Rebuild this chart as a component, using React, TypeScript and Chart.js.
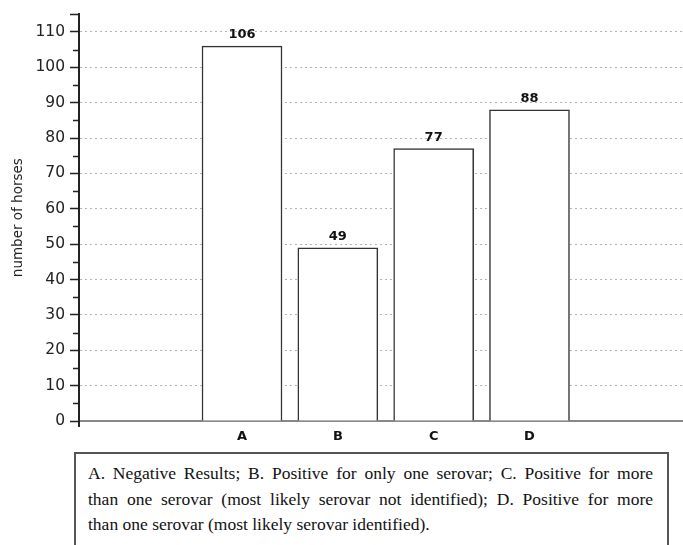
import React, { useEffect, useRef } from 'react';
import { Chart, registerables, Plugin } from 'chart.js';

Chart.register(...registerables);

// Categories and counts
const categories = ['A', 'B', 'C', 'D'];
const horseCounts = [106, 49, 77, 88];
const majorTicks = [0, 10, 20, 30, 40, 50, 60, 70, 80, 90, 100, 110];
const minorTicks = [5, 15, 25, 35, 45, 55, 65, 75, 85, 95, 105];
const yTitle = 'number of horses';
const captionLines = [
  'A. Negative Results; B. Positive for only one serovar; C. Positive for more',
  'than one serovar (most likely serovar not identified); D. Positive for more',
  'than one serovar (most likely serovar identified).',
];

const FONT = "'DejaVu Sans', 'Liberation Sans', Arial, sans-serif";

// value labels above each bar
const barLabels: Plugin<'bar'> = {
  id: 'barLabels',
  afterDatasetsDraw(chart) {
    const ctx = chart.ctx;
    const meta = chart.getDatasetMeta(0);
    ctx.save();
    ctx.font = `bold 13px ${FONT}`;
    ctx.fillStyle = '#111';
    ctx.textAlign = 'center';
    ctx.textBaseline = 'bottom';
    meta.data.forEach((bar: any, i) => {
      ctx.fillText(String(horseCounts[i]), bar.x, bar.y - 5);
    });
    ctx.restore();
  },
};

// short minor ticks on the y axis + little overhang below zero
const minorTickMarks: Plugin<'bar'> = {
  id: 'minorTickMarks',
  afterDraw(chart) {
    const ctx = chart.ctx;
    const y = chart.scales.y;
    const x0 = y.right;
    ctx.save();
    ctx.strokeStyle = '#222';
    ctx.lineWidth = 1.5;
    ctx.beginPath();
    minorTicks.forEach(v => {
      const py = Math.round(y.getPixelForValue(v)) + 0.5;
      ctx.moveTo(x0 - 6, py);
      ctx.lineTo(x0, py);
    });
    const top = Math.round(y.getPixelForValue(115)) + 0.5;
    ctx.moveTo(x0 - 9, top);
    ctx.lineTo(x0, top);
    ctx.stroke();
    ctx.lineWidth = 2;
    ctx.beginPath();
    ctx.moveTo(x0, y.bottom);
    ctx.lineTo(x0, y.bottom + 6);
    ctx.stroke();
    ctx.restore();
  },
};

export default function App() {
  const canvasRef = useRef<HTMLCanvasElement | null>(null);

  useEffect(() => {
    if (!canvasRef.current) return;
    const chart = new Chart(canvasRef.current, {
      type: 'bar',
      data: {
        datasets: [
          {
            data: horseCounts.map((v, i) => ({ x: i + 1, y: v })),
            backgroundColor: '#ffffff',
            borderColor: '#333',
            borderWidth: 1.5,
            barThickness: 80,
          },
        ],
      },
      options: {
        animation: false,
        responsive: true,
        maintainAspectRatio: false,
        layout: { padding: { top: 13, left: 0, right: 0, bottom: 0 } },
        plugins: {
          legend: { display: false },
          tooltip: { enabled: false },
        },
        scales: {
          x: {
            type: 'linear',
            offset: false,
            min: -0.701,
            max: 5.602,
            afterFit: (scale: any) => {
              scale.height = 29;
            },
            grid: { display: false, drawTicks: false, offset: false },
            border: { display: true, color: '#888', width: 2 },
            ticks: {
              stepSize: 1,
              includeBounds: false,
              autoSkip: false,
              maxRotation: 0,
              padding: 8,
              color: '#111',
              font: { family: FONT, size: 13, weight: 'bold' },
              callback: (v: any) => (Number.isInteger(v) && categories[v - 1]) || '',
            },
          },
          y: {
            min: 0,
            max: 115,
            afterFit: (scale: any) => {
              scale.width = 79;
            },
            afterBuildTicks: (scale: any) => {
              scale.ticks = majorTicks.map(v => ({ value: v }));
            },
            grid: {
              color: (c: any) => (c.tick && c.tick.value > 0 ? '#b4b4b4' : 'transparent'),
              lineWidth: 1,
              drawTicks: true,
              tickLength: 9,
              tickColor: '#222',
              tickWidth: 1.5,
            },
            border: { display: true, color: '#222', width: 2, dash: [2, 3] },
            ticks: {
              autoSkip: false,
              padding: 5,
              color: '#222',
              font: { family: FONT, size: 15.5 },
            },
            title: {
              display: true,
              text: yTitle,
              color: '#222',
              font: { family: FONT, size: 13.5 },
              padding: { top: 10, bottom: 0 },
            },
          },
        },
      },
      plugins: [barLabels, minorTickMarks],
    });
    return () => chart.destroy();
  }, []);

  return (
    <div
      style={{
        position: 'fixed',
        left: 0,
        top: 0,
        width: 683,
        height: 545,
        overflow: 'hidden',
        background: '#fff',
      }}
    >
      <div style={{ position: 'absolute', left: 0, top: 0, width: 683, height: 450 }}>
        <canvas ref={canvasRef} />
      </div>
      <div
        style={{
          position: 'absolute',
          left: 74,
          top: 452,
          width: 565,
          height: 140,
          border: '2px solid #555',
          boxSizing: 'content-box',
          padding: '7px 14px 0 12px',
          fontFamily: "'Liberation Serif', 'Times New Roman', serif",
          fontSize: 17.5,
          lineHeight: '25.5px',
          color: '#111',
        }}
      >
        {captionLines.map((line, i) => (
          <div
            key={i}
            style={{
              textAlign: 'justify',
              textAlignLast: i < captionLines.length - 1 ? 'justify' : 'left',
              whiteSpace: 'nowrap',
            }}
          >
            {line}
          </div>
        ))}
      </div>
    </div>
  );
}
